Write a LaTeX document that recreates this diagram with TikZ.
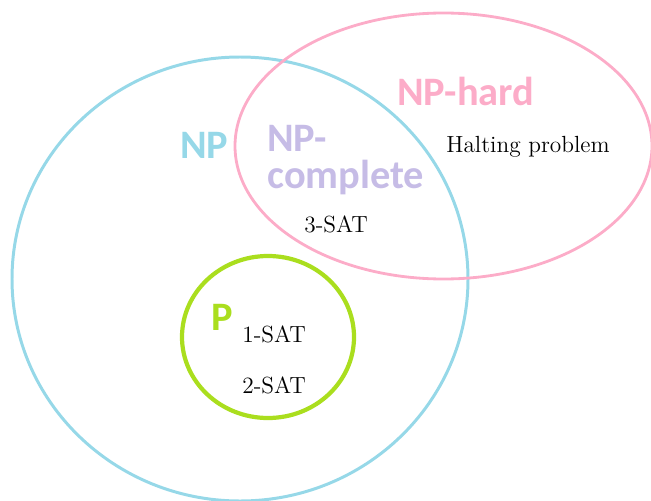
\documentclass[tikz,border=0pt]{standalone}
\usepackage{fontspec}
\newfontfamily\setfont{Carlito}
\usetikzlibrary{positioning}

\definecolor{npblue}{RGB}{150,216,232}
\definecolor{hardpink}{RGB}{252,172,200}
\definecolor{pgreen}{RGB}{170,222,30}
\definecolor{compurple}{RGB}{198,188,230}

\begin{document}
\begin{tikzpicture}[x=0.02cm, y=-0.02cm,
    setname/.style={font=\setfont\bfseries\fontsize{23}{21}\selectfont, inner sep=0pt, anchor=base west},
    problem/.style={font=\fontsize{13.3}{15}\selectfont, inner sep=0pt, anchor=base west}]
  \useasboundingbox (0,0) rectangle (651,500);
  % sets
  \draw[npblue, line width=1.7pt] (240,279) ellipse [x radius=228, y radius=222];
  \draw[hardpink, line width=1.6pt] (443.5,146) ellipse [x radius=208.5, y radius=133];
  \draw[pgreen, line width=2.4pt] (268,337) ellipse [x radius=86, y radius=81];

  % set names
  \node[setname, text=npblue] (np) at (180,158) {NP};
  \node[setname, text=compurple, align=left] (npc) at (267,188) {NP-\\complete};
  \node[setname, text=hardpink] (nph) at (397,105) {NP-hard};
  \node[setname, text=pgreen] (p) at (211,330) {P};

  % problems
  \node[problem] (halt) at (446,152) {Halting problem};
  \node[problem] (sat3) at (304,232) {3-SAT};
  \node[problem] (sat1) at (242,342) {1-SAT};
  \node[problem, below=51*0.02cm of sat1.base west, anchor=base west] (sat2) {2-SAT};
\end{tikzpicture}
\end{document}
